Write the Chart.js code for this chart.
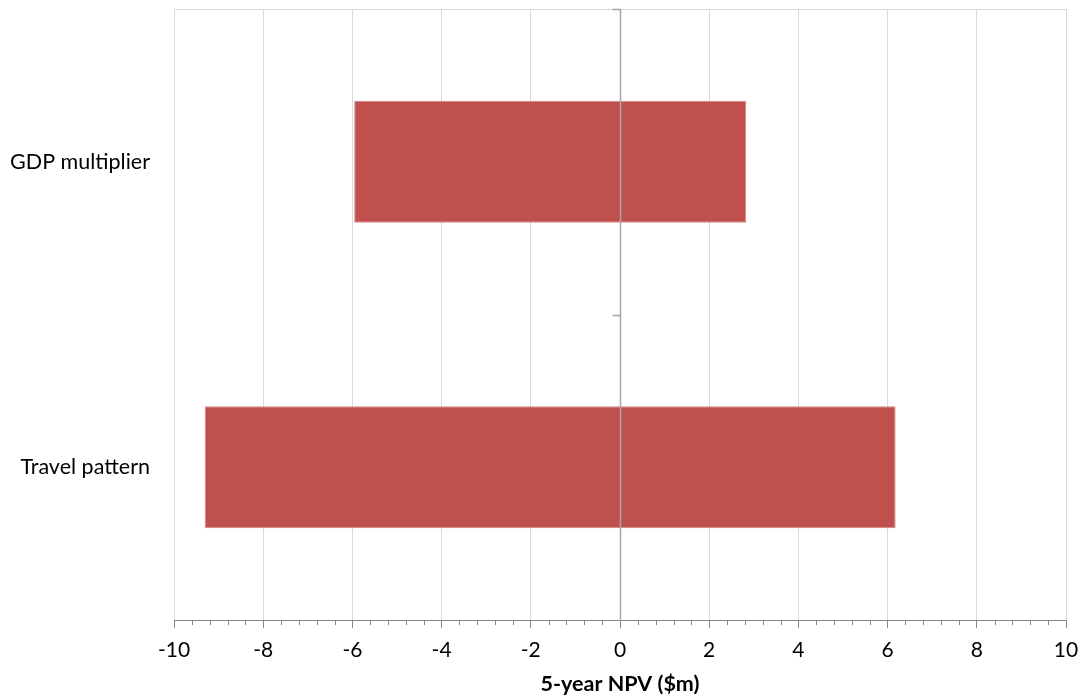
<!DOCTYPE html>
<html>
<head>
<meta charset="utf-8">
<script src="https://cdn.jsdelivr.net/npm/chart.js@4"></script>
<style>
  html, body { margin: 0; padding: 0; background: #fff; }
  #wrap { width: 1087px; height: 697px; }
</style>
</head>
<body>
<div id="wrap"><canvas id="c" width="1087" height="697"></canvas></div>
<script>
// Sensitivity ranges of the 5-year NPV ($m)
const categories = ['GDP multiplier', 'Travel pattern'];
const lowValues = [-5.96, -9.31];
const highValues = [2.83, 6.18];
const axisMin = -10;
const axisMax = 10;
const majorStep = 2;
const minorStep = 0.4;

const FONT = 'Lato, "Open Sans", sans-serif';

// Zero reference line with category dividers, plot top border and minor x ticks
const axisDecor = {
  id: 'axisDecor',
  beforeDatasetsDraw(chart) {
    const { ctx, chartArea } = chart;
    ctx.save();
    ctx.strokeStyle = '#d9d9d9';
    ctx.lineWidth = 1;
    ctx.beginPath();
    ctx.moveTo(chartArea.left, chartArea.top + 0.5);
    ctx.lineTo(chartArea.right, chartArea.top + 0.5);
    ctx.stroke();
    ctx.restore();
  },
  afterDatasetsDraw(chart) {
    const { ctx, chartArea, scales: { x, y } } = chart;
    const x0 = Math.round(x.getPixelForValue(0)) + 0.5;
    ctx.save();
    ctx.strokeStyle = '#a6a6a6';
    ctx.lineWidth = 1.5;
    ctx.beginPath();
    ctx.moveTo(x0, chartArea.top);
    ctx.lineTo(x0, chartArea.bottom);
    for (let i = 0; i < categories.length; i++) {
      const yb = Math.round(y.getPixelForValue(i - 0.5)) + 0.5;
      ctx.moveTo(x0 - 8, yb);
      ctx.lineTo(x0, yb);
    }
    ctx.stroke();

    ctx.strokeStyle = '#868686';
    ctx.lineWidth = 1;
    ctx.beginPath();
    const n = Math.round((axisMax - axisMin) / minorStep);
    const perMajor = Math.round(majorStep / minorStep);
    for (let k = 0; k <= n; k++) {
      if (k % perMajor === 0) continue;
      const px = Math.round(x.getPixelForValue(axisMin + k * minorStep)) + 0.5;
      ctx.moveTo(px, chartArea.bottom);
      ctx.lineTo(px, chartArea.bottom + 5);
    }
    ctx.stroke();
    ctx.restore();
  }
};

new Chart(document.getElementById('c'), {
  type: 'bar',
  data: {
    labels: categories,
    datasets: [{
      label: '5-year NPV ($m)',
      data: categories.map((_, i) => [lowValues[i], highValues[i]]),
      backgroundColor: '#c0504d',
      borderColor: '#d58482',
      borderWidth: 1,
      borderSkipped: false,
      categoryPercentage: 1,
      barPercentage: 0.4
    }]
  },
  options: {
    indexAxis: 'y',
    responsive: false,
    animation: false,
    layout: { padding: { top: 9, right: 21, bottom: 0, left: 0 } },
    plugins: {
      legend: { display: false },
      tooltip: { enabled: false }
    },
    scales: {
      x: {
        type: 'linear',
        min: axisMin,
        max: axisMax,
        ticks: {
          stepSize: majorStep,
          color: '#000',
          font: { family: FONT, size: 21 },
          padding: 10
        },
        grid: {
          color: '#d9d9d9',
          lineWidth: 1,
          tickColor: '#868686',
          tickLength: 8
        },
        border: { color: '#868686', width: 1 },
        title: {
          display: true,
          text: '5-year NPV ($m)',
          color: '#000',
          font: { family: FONT, size: 21.5, weight: 'bold' },
          padding: { top: 0, bottom: 0 }
        },
        afterFit(scale) {
          scale.height = 77;
          scale.paddingLeft = 0;
          scale.paddingRight = 0;
        }
      },
      y: {
        type: 'category',
        offset: true,
        ticks: {
          color: '#000',
          font: { family: FONT, size: 21.5 },
          padding: 24
        },
        grid: { display: false, drawTicks: false },
        border: { display: false },
        afterFit(scale) {
          scale.width = 174;
          scale.paddingTop = 0;
          scale.paddingBottom = 0;
        }
      }
    }
  },
  plugins: [axisDecor]
});
</script>
</body>
</html>
